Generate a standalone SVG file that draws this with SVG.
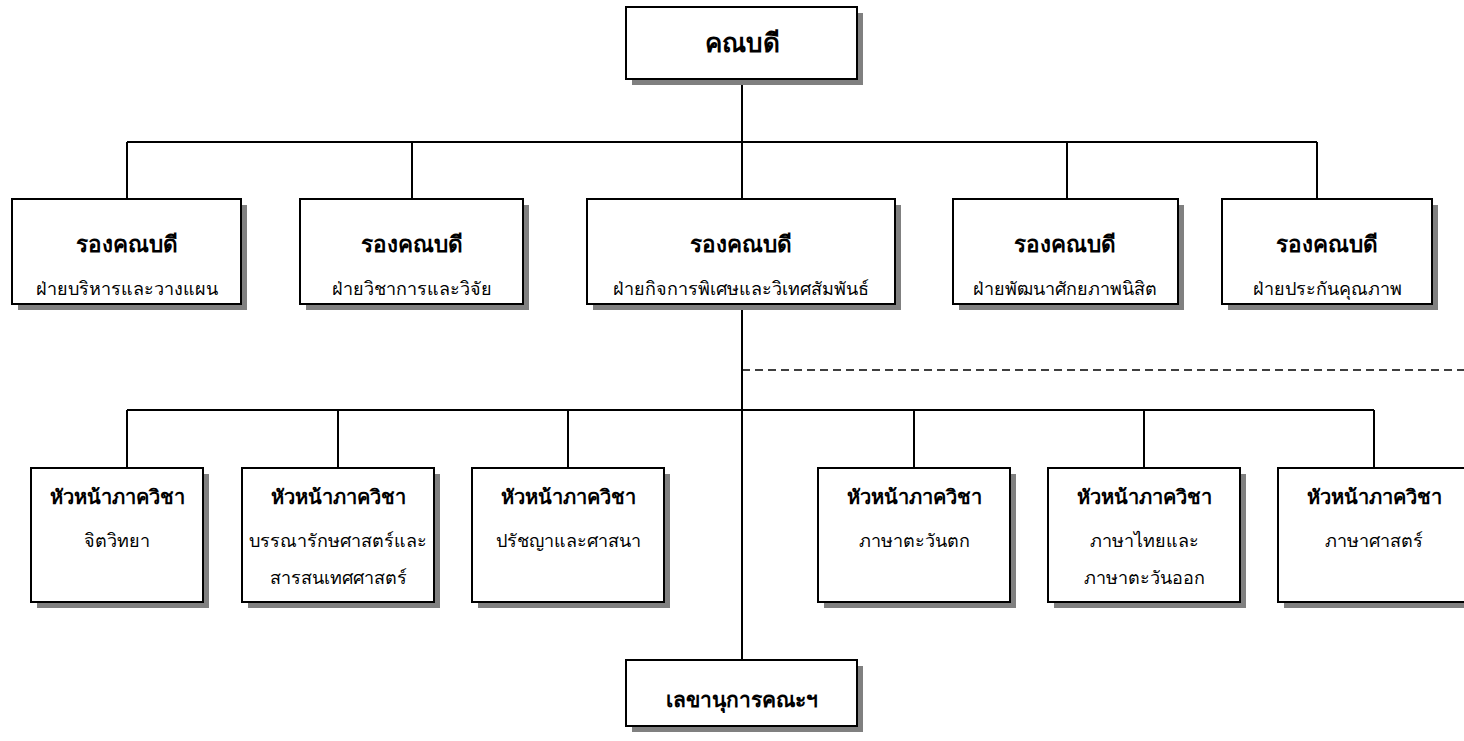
<svg xmlns="http://www.w3.org/2000/svg" width="1464" height="741" viewBox="0 0 1464 741">
<defs>
<style>
.box{fill:#fff;stroke:#000;stroke-width:2}
.sh{fill:#808080}
.ln{stroke:#000;stroke-width:2;fill:none}
.dash{stroke:#000;stroke-width:1.5;fill:none;stroke-dasharray:8 5}
.t{font-family:"Noto Sans","DejaVu Sans",sans-serif;text-anchor:middle;fill:#000}
.b1{font-size:26px;font-weight:bold}
.b2{font-size:22.5px;font-weight:bold}
.b3{font-size:20px;font-weight:bold}
.b4{font-size:21px;font-weight:bold}
.s{font-size:18px}
</style>
</defs>
<rect width="1464" height="741" fill="#fff"/>
<g id="connectors">
<line class="ln" x1="742" y1="79" x2="742" y2="142"/>
<line class="ln" x1="127" y1="142" x2="1317" y2="142"/>
<line class="ln" x1="127" y1="142" x2="127" y2="199"/>
<line class="ln" x1="412" y1="142" x2="412" y2="199"/>
<line class="ln" x1="742" y1="142" x2="742" y2="199"/>
<line class="ln" x1="1067" y1="142" x2="1067" y2="199"/>
<line class="ln" x1="1317" y1="142" x2="1317" y2="199"/>
<line class="ln" x1="742" y1="304" x2="742" y2="660"/>
<line class="dash" x1="742" y1="370" x2="1464" y2="370"/>
<line class="ln" x1="127" y1="410" x2="1374" y2="410"/>
<line class="ln" x1="127" y1="410" x2="127" y2="468"/>
<line class="ln" x1="338" y1="410" x2="338" y2="468"/>
<line class="ln" x1="568" y1="410" x2="568" y2="468"/>
<line class="ln" x1="914" y1="410" x2="914" y2="468"/>
<line class="ln" x1="1144" y1="410" x2="1144" y2="468"/>
<line class="ln" x1="1374" y1="410" x2="1374" y2="468"/>
</g>
<g id="dean">
<rect class="sh" x="632" y="13" width="231" height="72"/>
<rect class="box" x="626" y="7" width="231" height="72"/>
<text class="t b1" x="742" y="52">คณบดี</text>
</g>
<g id="vp1">
<rect class="sh" x="18" y="205" width="229" height="105"/>
<rect class="box" x="12" y="199" width="229" height="105"/>
<text class="t b2" x="127" y="252">รองคณบดี</text>
<text class="t s" x="127" y="295">ฝ่ายบริหารและวางแผน</text>
</g>
<g id="vp2">
<rect class="sh" x="306" y="205" width="223" height="105"/>
<rect class="box" x="300" y="199" width="223" height="105"/>
<text class="t b2" x="412" y="252">รองคณบดี</text>
<text class="t s" x="412" y="295">ฝ่ายวิชาการและวิจัย</text>
</g>
<g id="vp3">
<rect class="sh" x="593" y="205" width="308" height="105"/>
<rect class="box" x="587" y="199" width="308" height="105"/>
<text class="t b2" x="741" y="252">รองคณบดี</text>
<text class="t s" x="741" y="295">ฝ่ายกิจการพิเศษและวิเทศสัมพันธ์</text>
</g>
<g id="vp4">
<rect class="sh" x="959" y="205" width="225" height="105"/>
<rect class="box" x="953" y="199" width="225" height="105"/>
<text class="t b2" x="1065" y="252">รองคณบดี</text>
<text class="t s" x="1065" y="295">ฝ่ายพัฒนาศักยภาพนิสิต</text>
</g>
<g id="vp5">
<rect class="sh" x="1228" y="205" width="210" height="105"/>
<rect class="box" x="1222" y="199" width="210" height="105"/>
<text class="t b2" x="1327" y="252">รองคณบดี</text>
<text class="t s" x="1327" y="295">ฝ่ายประกันคุณภาพ</text>
</g>
<g id="h1">
<rect class="sh" x="37" y="474" width="172" height="134"/>
<rect class="box" x="31" y="468" width="172" height="134"/>
<text class="t b3" x="117" y="504">หัวหน้าภาควิชา</text>
<text class="t s" x="117" y="547">จิตวิทยา</text>
</g>
<g id="h2">
<rect class="sh" x="248" y="474" width="192" height="134"/>
<rect class="box" x="242" y="468" width="192" height="134"/>
<text class="t b3" x="338" y="504">หัวหน้าภาควิชา</text>
<text class="t s" x="338" y="547">บรรณารักษศาสตร์และ</text>
<text class="t s" x="338" y="584">สารสนเทศศาสตร์</text>
</g>
<g id="h3">
<rect class="sh" x="478" y="474" width="192" height="134"/>
<rect class="box" x="472" y="468" width="192" height="134"/>
<text class="t b3" x="568" y="504">หัวหน้าภาควิชา</text>
<text class="t s" x="568" y="547">ปรัชญาและศาสนา</text>
</g>
<g id="h4">
<rect class="sh" x="824" y="474" width="192" height="134"/>
<rect class="box" x="818" y="468" width="192" height="134"/>
<text class="t b3" x="914" y="504">หัวหน้าภาควิชา</text>
<text class="t s" x="914" y="547">ภาษาตะวันตก</text>
</g>
<g id="h5">
<rect class="sh" x="1054" y="474" width="192" height="134"/>
<rect class="box" x="1048" y="468" width="192" height="134"/>
<text class="t b3" x="1144" y="504">หัวหน้าภาควิชา</text>
<text class="t s" x="1144" y="547">ภาษาไทยและ</text>
<text class="t s" x="1144" y="584">ภาษาตะวันออก</text>
</g>
<g id="h6">
<rect class="sh" x="1284" y="474" width="192" height="134"/>
<rect class="box" x="1278" y="468" width="192" height="134"/>
<text class="t b3" x="1374" y="504">หัวหน้าภาควิชา</text>
<text class="t s" x="1374" y="547">ภาษาศาสตร์</text>
</g>
<g id="secretary">
<rect class="sh" x="632" y="666" width="231" height="66"/>
<rect class="box" x="626" y="660" width="231" height="66"/>
<text class="t b4" x="742" y="707">เลขานุการคณะฯ</text>
</g>
</svg>
